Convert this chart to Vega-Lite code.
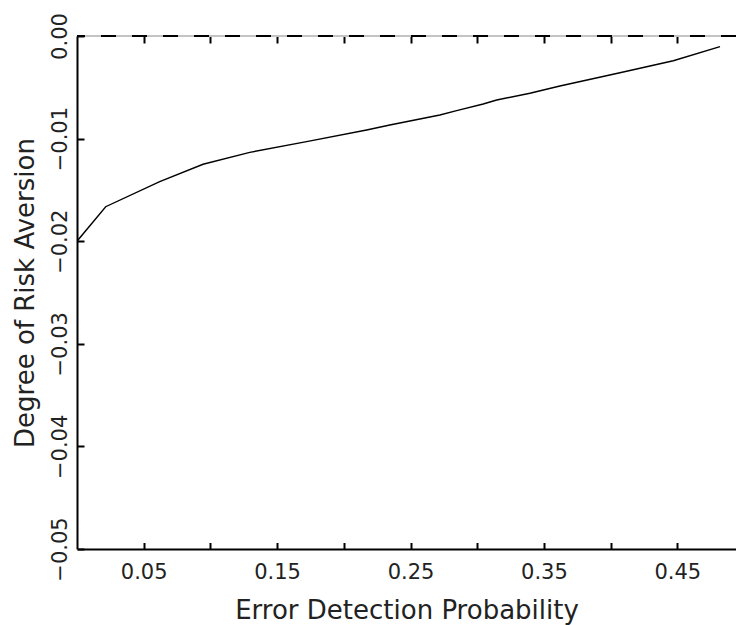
{
  "$schema": "https://vega.github.io/schema/vega-lite/v6.json",
  "autosize": {"type": "none"},
  "padding": {"left": 77, "top": 36, "right": 0, "bottom": 76},
  "width": 659,
  "height": 513,
  "background": "white",
  "config": {
    "view": {"stroke": null},
    "font": "DejaVu Sans"
  },
  "data": {
    "values": [
      {"p": 0.0, "r": -0.02},
      {"p": 0.0215, "r": -0.01664},
      {"p": 0.062, "r": -0.0142},
      {"p": 0.0945, "r": -0.0125},
      {"p": 0.1295, "r": -0.01134},
      {"p": 0.1721, "r": -0.0103},
      {"p": 0.2171, "r": -0.00916},
      {"p": 0.2345, "r": -0.00867},
      {"p": 0.272, "r": -0.0077},
      {"p": 0.2846, "r": -0.00728},
      {"p": 0.3045, "r": -0.00663},
      {"p": 0.3146, "r": -0.00624},
      {"p": 0.3395, "r": -0.00558},
      {"p": 0.362, "r": -0.00487},
      {"p": 0.407, "r": -0.00358},
      {"p": 0.447, "r": -0.00241},
      {"p": 0.482, "r": -0.00104}
    ]
  },
  "layer": [
    {
      "mark": {"type": "rule", "color": "#c4c4c4", "strokeWidth": 2},
      "encoding": {
        "y": {"datum": 0, "type": "quantitative"}
      }
    },
    {
      "mark": {"type": "rule", "color": "black", "strokeWidth": 2, "strokeDash": [15, 16]},
      "encoding": {
        "y": {"datum": 0, "type": "quantitative"}
      }
    },
    {
      "mark": {"type": "line", "color": "black", "strokeWidth": 1.4, "clip": true},
      "encoding": {
        "x": {
          "field": "p", "type": "quantitative",
          "scale": {"domain": [0, 0.494], "nice": false, "zero": false},
          "axis": {
            "orient": "bottom",
            "values": [0.05, 0.1, 0.15, 0.2, 0.25, 0.3, 0.35, 0.4, 0.45],
            "labelExpr": "(round(datum.value*100) % 10 == 5) ? format(datum.value, '.2f') : ''",
            "domainColor": "black", "domainWidth": 2,
            "ticks": true, "tickSize": 8, "tickColor": "white", "tickWidth": 1,
            "grid": true, "gridColor": "black", "gridWidth": 2, "gridOpacity": 1,
            "gridDash": [7, 499.5, 7, 3000],
            "labelPadding": 4, "labelFontSize": 21, "labelColor": "#222",
            "labelFlush": false, "labelOverlap": false,
            "title": "Error Detection Probability",
            "titleFontSize": 26, "titleFontWeight": "normal", "titleColor": "#222",
            "titlePadding": 15
          }
        },
        "y": {
          "field": "r", "type": "quantitative",
          "scale": {"domain": [-0.05, 0], "nice": false, "zero": false},
          "axis": {
            "orient": "left",
            "values": [-0.05, -0.04, -0.03, -0.02, -0.01, 0],
            "format": ".2f",
            "domainColor": "black", "domainWidth": 2,
            "ticks": true, "tickSize": 8, "tickColor": "white", "tickWidth": 1,
            "grid": true, "gridColor": "black", "gridWidth": 2, "gridOpacity": 1,
            "gridDash": [7, 3000],
            "labelAngle": 270, "labelAlign": "center", "labelBaseline": "bottom",
            "labelPadding": -1, "labelFontSize": 21, "labelColor": "#222",
            "labelFlush": false, "labelOverlap": false,
            "title": "Degree of Risk Aversion",
            "titleFontSize": 26, "titleFontWeight": "normal", "titleColor": "#222",
            "titlePadding": 11
          }
        }
      }
    }
  ]
}
